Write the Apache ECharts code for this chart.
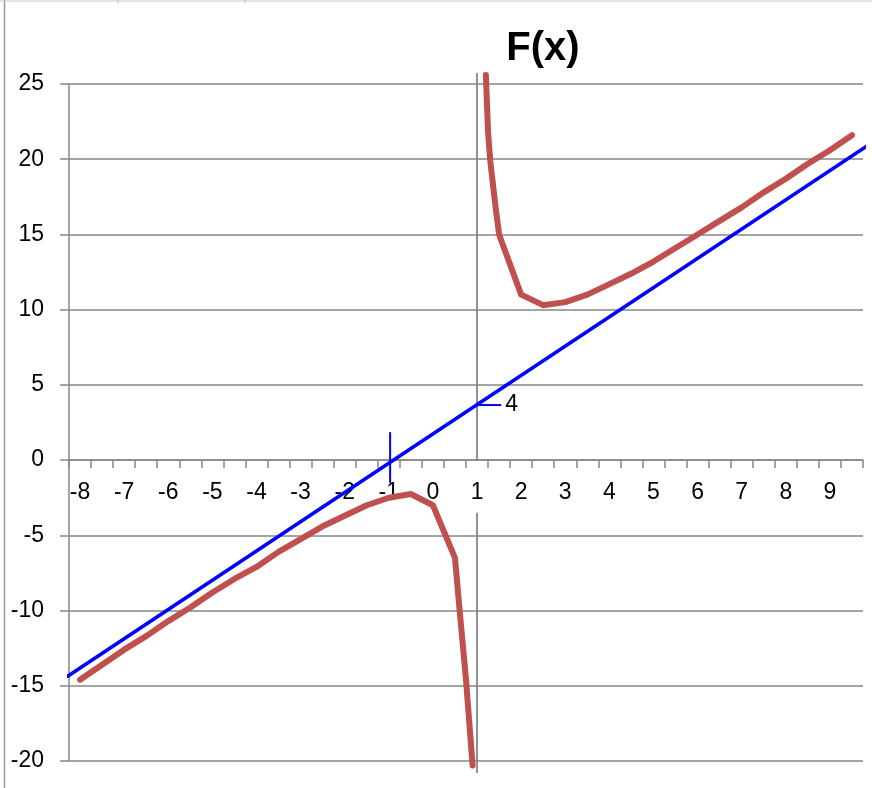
<!DOCTYPE html>
<html>
<head>
<meta charset="utf-8">
<script src="https://cdn.jsdelivr.net/npm/echarts@6/dist/echarts.min.js"></script>
<style>
html,body{margin:0;padding:0;background:#ffffff;}
#chart{width:872px;height:788px;}
</style>
</head>
<body>
<div id="chart"></div>
<script>
// ---- data ----
const xCategories = ['-8','-7.5','-7','-6.5','-6','-5.5','-5','-4.5','-4','-3.5','-3','-2.5','-2','-1.5','-1','-0.5','0','0.5','1','1.5','2','2.5','3','3.5','4','4.5','5','5.5','6','6.5','7','7.5','8','8.5','9','9.5'];
const yTicks = [-20, 25, 5]; // min, max, step

// F(x), left branch (x < 1)
const leftX = [-8,-7.5,-7,-6.5,-6,-5.5,-5,-4.5,-4,-3.5,-3,-2.5,-2,-1.5,-1,-0.5,0,0.5,0.6,0.75,0.9];
const leftY = [-14.6,-13.6,-12.6,-11.7,-10.7,-9.8,-8.8,-7.9,-7.1,-6.1,-5.25,-4.4,-3.7,-3.0,-2.5,-2.25,-3.0,-6.5,-9.8,-14.6,-20.3];
// F(x), right branch (x > 1)
const rightX = [1.2,1.25,1.3,1.37,1.43,1.5,2,2.5,3,3.5,4,4.5,5,5.5,6,6.5,7,7.5,8,8.5,9,9.5];
const rightY = [25.6,21.8,19.9,18.1,16.6,15.0,11.0,10.3,10.5,11.0,11.7,12.4,13.2,14.1,15.0,15.9,16.8,17.8,18.7,19.7,20.6,21.6];
// oblique asymptote (blue)
const obliqueX = [-8.28, 9.95];
const obliqueY = [-14.36, 21.1];
// vertical asymptote x = 1 (gray), broken around the axis label
const verticalX = [1, 1, 1, 1];
const verticalY = [25.73, 0, -3.5, -20.8];
const verticalBreak = [false, true, false, false];
// small blue markers
const rootMarkX = [-0.97, -0.97];
const rootMarkY = [1.86, -1.53];
const interceptMarkX = [1.0, 1.55];
const interceptMarkY = [3.66, 3.66];
const interceptLabel = '4';

const pairs = (xs, ys) => xs.map((x, i) => [x, ys[i]]);
const GRAY = '#868686';
const FONT = 'Liberation Sans';

const verticalData = [];
verticalX.forEach((x, i) => {
  verticalData.push([x, verticalY[i]]);
  if (verticalBreak[i]) verticalData.push([x, '-']);
});

const chart = echarts.init(document.getElementById('chart'), null, {renderer: 'canvas'});
chart.setOption({
  animation: false,
  backgroundColor: '#ffffff',
  title: {
    text: 'F(x)',
    left: 538,
    top: 24,
    textAlign: 'center',
    textStyle: {fontFamily: FONT, fontSize: 40, fontWeight: 'bold', color: '#000'}
  },
  graphic: [
    {type: 'line', shape: {x1: 4.5, y1: 0, x2: 4.5, y2: 788}, style: {stroke: '#9a9a9a', lineWidth: 1.5}, silent: true},
    {type: 'line', shape: {x1: 0, y1: 1, x2: 872, y2: 1}, style: {stroke: '#c6c6c6', lineWidth: 1}, silent: true},
    {type: 'line', shape: {x1: 118, y1: 0, x2: 118, y2: 4}, style: {stroke: '#c6c6c6', lineWidth: 1}, silent: true},
    {type: 'line', shape: {x1: 245, y1: 0, x2: 245, y2: 4}, style: {stroke: '#c6c6c6', lineWidth: 1}, silent: true}
  ],
  grid: {left: 69, right: 9, top: 84, bottom: 27, containLabel: false, outerBoundsMode: 'none'},
  xAxis: [
    {type: 'value', min: -8.25, max: 9.75, show: false, axisLine: {onZero: false}},
    {
      type: 'category',
      data: xCategories,
      boundaryGap: true,
      position: 'bottom',
      offset: 0,
      axisLine: {show: true, onZero: false, lineStyle: {color: GRAY, width: 1.5}},
      axisTick: {show: true, interval: 0, length: 8, lineStyle: {color: GRAY, width: 1.5}},
      axisLabel: {interval: 1, margin: 21, fontFamily: FONT, fontSize: 23, color: '#000'},
      splitLine: {show: false}
    }
  ],
  yAxis: {
    type: 'value',
    min: yTicks[0], max: yTicks[1], interval: yTicks[2],
    axisLine: {show: true, onZero: false, lineStyle: {color: GRAY, width: 1.5}},
    axisTick: {show: true, length: 9, lineStyle: {color: GRAY, width: 1.5}},
    axisLabel: {margin: 25, fontFamily: FONT, fontSize: 23, color: '#000'},
    splitLine: {show: true, lineStyle: {color: GRAY, width: 1.5}}
  },
  series: [
    {
      name: 'x = 1', type: 'line', xAxisIndex: 0, data: verticalData, showSymbol: false,
      clip: false, connectNulls: false, silent: true,
      lineStyle: {color: GRAY, width: 1.8}, z: 3
    },
    {
      name: 'root', type: 'line', xAxisIndex: 0, data: pairs(rootMarkX, rootMarkY), showSymbol: false,
      clip: false, silent: true, lineStyle: {color: '#0000ff', width: 2}, z: 4
    },
    {
      name: 'intercept', type: 'line', xAxisIndex: 0, data: pairs(interceptMarkX, interceptMarkY), showSymbol: false,
      clip: false, silent: true, lineStyle: {color: '#0000ff', width: 2}, z: 4,
      endLabel: {show: true, formatter: interceptLabel, distance: 4, fontFamily: FONT, fontSize: 23, color: '#000'}
    },
    {
      name: 'oblique', type: 'line', xAxisIndex: 0, data: pairs(obliqueX, obliqueY), showSymbol: false,
      clip: false, silent: true, lineStyle: {color: '#0000ff', width: 3.6, cap: 'round'}, z: 5
    },
    {
      name: 'F left', type: 'line', xAxisIndex: 0, data: pairs(leftX, leftY), showSymbol: false,
      clip: false, silent: true, lineStyle: {color: '#c0504d', width: 6, cap: 'round', join: 'round'}, z: 6
    },
    {
      name: 'F right', type: 'line', xAxisIndex: 0, data: pairs(rightX, rightY), showSymbol: false,
      clip: false, silent: true, lineStyle: {color: '#c0504d', width: 6, cap: 'round', join: 'round'}, z: 6
    }
  ]
});
// place the category axis (ticks + labels) on the y = 0 line, as in the reference
const zeroY = chart.convertToPixel({yAxisIndex: 0}, 0);
const bottomY = chart.convertToPixel({yAxisIndex: 0}, yTicks[0]);
chart.setOption({xAxis: [{}, {offset: zeroY - bottomY}]});
</script>
</body>
</html>
